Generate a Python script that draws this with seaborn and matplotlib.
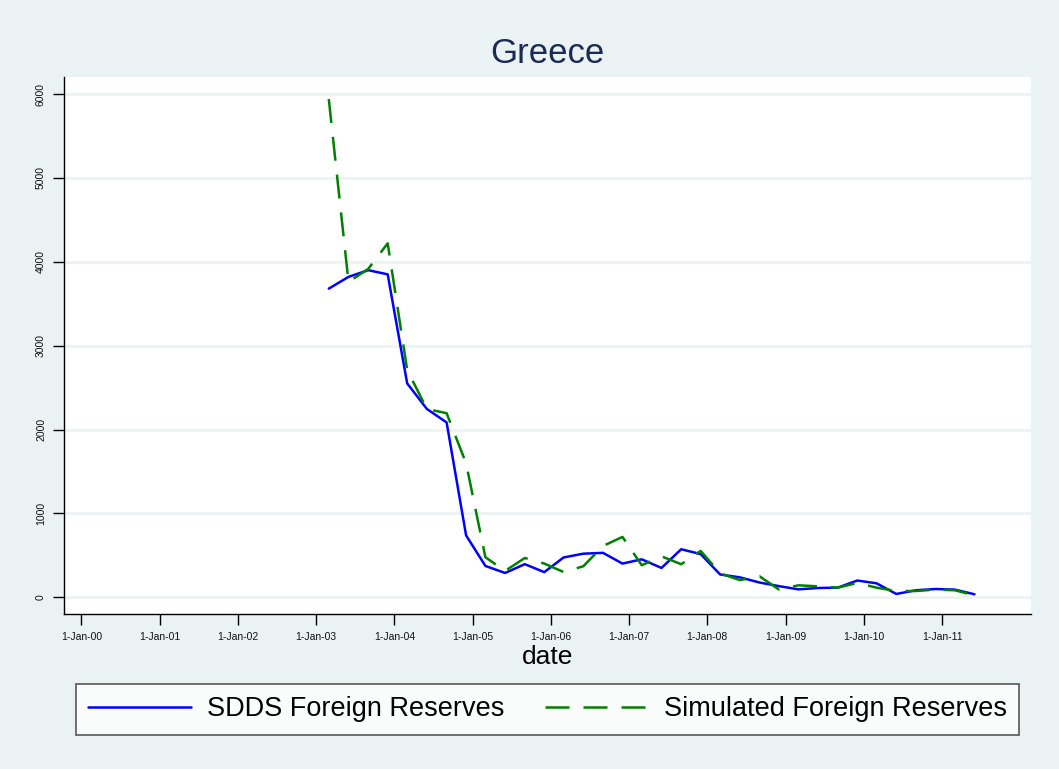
import matplotlib
matplotlib.use("Agg")
import matplotlib.pyplot as plt
import seaborn as sns
import pandas as pd
import numpy as np

# ---- data ----
dates = pd.date_range("2003-03-01", "2011-06-01", freq="3MS")
sdds = [3680, 3820, 3900, 3850, 2550, 2245, 2085, 738,
        374, 290, 395, 300, 475, 520, 530, 402,
        453, 350, 573, 515, 272, 238, 176, 133,
        95, 111, 115, 200, 167, 40, 84, 99, 92, 36]
simulated = [5940, 3760, 3915, 4220, 2710, 2245, 2195, 1597,
             478, 314, 469, 402, 302, 370, 612, 720,
             382, 489, 394, 553, 285, 205, 250, 92,
             143, 131, 115, 171, 115, 75, 75, 92, 84, 24]
series_names = ["SDDS Foreign Reserves", "Simulated Foreign Reserves"]
tick_years = list(range(2000, 2012))
tick_labels = ["1-Jan-%02d" % (y % 100) for y in tick_years]
ytick_vals = [0, 1000, 2000, 3000, 4000, 5000, 6000]

df = pd.DataFrame({"date": dates, "sdds": sdds, "sim": simulated})

sns.set_theme(style="white")
plt.rcParams["font.family"] = ["Liberation Sans", "DejaVu Sans"]

BG = "#EAF2F3"
fig = plt.figure(figsize=(10.59, 7.69), dpi=100, facecolor=BG)
ax = fig.add_axes([64/1059, 155/769, (1031-64)/1059, (614-77)/769])
ax.set_facecolor("white")

LW = 1.8
sns.lineplot(data=df, x="date", y="sdds", ax=ax, color="#0000FF", lw=LW,
             label=series_names[0], legend=False)
sns.lineplot(data=df, x="date", y="sim", ax=ax, color="#008000", lw=LW,
             label=series_names[1], legend=False)
ax.lines[1].set_dashes((9.6, 5.6))

ax.set_xlim(pd.Timestamp("1999-10-12"), pd.Timestamp("2012-02-20"))
ax.set_ylim(-199, 6203)
ax.set_xticks([pd.Timestamp(f"{y}-01-01") for y in tick_years])
ax.set_xticklabels(tick_labels, fontsize=7.5)
ax.set_yticks(ytick_vals)
ax.set_yticklabels([str(v) for v in ytick_vals], fontsize=7.5, rotation=90, va="center")
ax.tick_params(axis="both", direction="out", length=8, width=1, color="black",
               labelcolor="#111111", pad=5)
ax.tick_params(axis="x", bottom=True)
ax.tick_params(axis="y", left=True)
ax.yaxis.grid(True, color=BG, lw=1.8)
ax.xaxis.grid(False)
for s in ["top", "right"]:
    ax.spines[s].set_visible(False)
for s in ["left", "bottom"]:
    ax.spines[s].set_color("black")
    ax.spines[s].set_linewidth(1)

ax.set_ylabel("")
ax.set_xlabel("date", fontsize=19, color="black", labelpad=2)
ax.set_title("Greece", fontsize=25, color="#1C2B55", pad=10)

handles = ax.get_lines()[:2]
leg = fig.legend(handles, series_names, loc="center", ncol=2,
                 bbox_to_anchor=((75 + 1020) / 2 / 1059, (769 - 709.5) / 769),
                 fontsize=19.5, frameon=True, fancybox=False, handlelength=3.8,
                 handletextpad=0.6, borderpad=0.45, borderaxespad=0,
                 columnspacing=1.5)
leg.get_frame().set_edgecolor("#404040")
leg.get_frame().set_linewidth(1.3)
leg.get_frame().set_facecolor("white")
for t in leg.get_texts():
    t.set_color("black")

fig.savefig("out.png", dpi=100, facecolor=BG)
